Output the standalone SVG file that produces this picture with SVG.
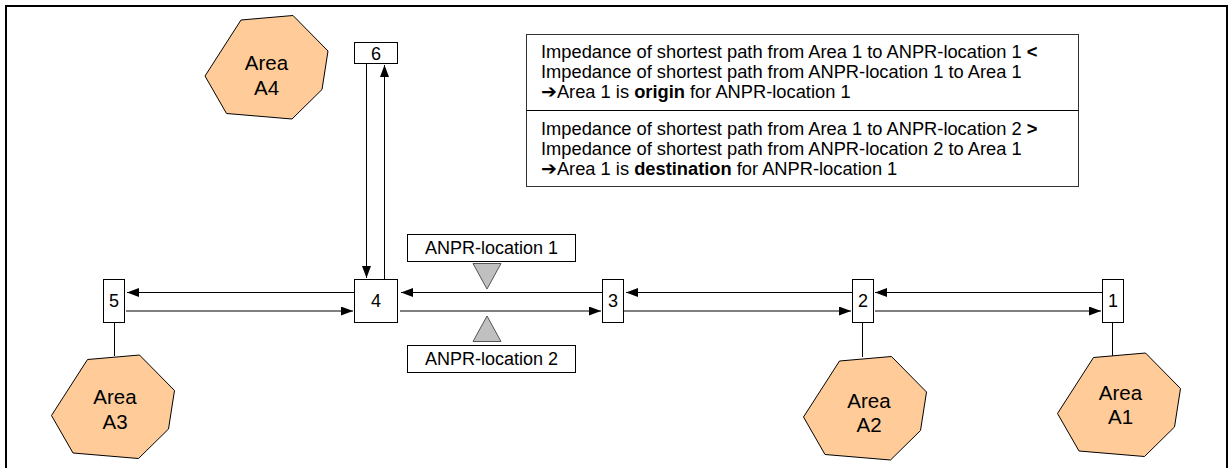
<svg xmlns="http://www.w3.org/2000/svg" width="1230" height="468" viewBox="0 0 1230 468">
<style>
text{font-family:"Liberation Sans",Arial,sans-serif;fill:#000}
.num{font-size:18px;text-anchor:middle}
.lbl{font-size:18px;text-anchor:middle}
.area{font-size:20.5px;text-anchor:middle}
.info{font-size:18.3px}
.box{fill:#fff;stroke:#000;stroke-width:1}
.hex{fill:#FFCC99;stroke:#000;stroke-width:1}
.ln{fill:none;stroke:#000;stroke-width:1}
.arr{fill:none;stroke:#000;stroke-width:1;marker-end:url(#ah)}
.tri{fill:#C0C0C0;stroke:#555;stroke-width:1}
.b{font-weight:bold}
.sym{font-family:"DejaVu Sans",sans-serif;font-size:19px}
</style>
<defs>
<marker id="ah" markerUnits="userSpaceOnUse" markerWidth="12" markerHeight="10" refX="12" refY="4.5" orient="auto">
<path d="M0,0 L12,4.5 L0,9 z" fill="#000"/>
</marker>
<polygon id="hexshape" points="0,0 52,-4.5 87,31 81,69.5 51,99 -14.5,93.5 -36,56"/>
</defs>

<path d="M6,470 V6 H1227 V470" fill="none" stroke="#000" stroke-width="2"/>

<g id="connectors">
<path class="arr" d="M1102,292.5 L875,292.5"/>
<path class="arr" d="M852,292.5 L626,292.5"/>
<path class="arr" d="M602,292.5 L401,292.5"/>
<path class="arr" d="M354,292.5 L127,292.5"/>
<path class="arr" d="M126,311 L353,311"/>
<path class="arr" d="M400,311 L601,311"/>
<path class="arr" d="M624,311 L851,311"/>
<path class="arr" d="M875,311 L1101,311"/>
<path class="arr" d="M366.5,64 L366.5,278"/>
<path class="arr" d="M384.5,279 L384.5,65"/>
<path class="ln" d="M114.5,322 L114.5,356"/>
<path class="ln" d="M862.5,322 L862.5,357"/>
<path class="ln" d="M1112.5,322 L1112.5,356"/>
</g>

<g id="node1"><rect class="box" x="1102.5" y="279.5" width="21" height="43"/><text class="num" x="1113" y="307">1</text></g>
<g id="node2"><rect class="box" x="852.5" y="279.5" width="21" height="43"/><text class="num" x="863" y="307">2</text></g>
<g id="node3"><rect class="box" x="602.5" y="279.5" width="21" height="43"/><text class="num" x="613" y="307">3</text></g>
<g id="node4"><rect class="box" x="354.5" y="279.5" width="43" height="43"/><text class="num" x="376" y="307">4</text></g>
<g id="node5"><rect class="box" x="103.5" y="279.5" width="21" height="43"/><text class="num" x="114" y="307">5</text></g>
<g id="node6"><rect class="box" x="354.5" y="42.5" width="43" height="21"/><text class="num" x="376" y="60">6</text></g>

<g id="anpr1">
<rect class="box" x="407.5" y="234.5" width="168" height="27"/>
<text class="lbl" x="491.5" y="254">ANPR-location 1</text>
<polygon class="tri" points="473,263.5 501,263.5 487,289"/>
</g>
<g id="anpr2">
<rect class="box" x="407.5" y="345.5" width="168" height="27"/>
<text class="lbl" x="491.5" y="365">ANPR-location 2</text>
<polygon class="tri" points="487,316 501,341.5 473,341.5"/>
</g>

<g id="areaA4">
<use href="#hexshape" class="hex" transform="translate(241,20)"/>
<text class="area" x="266.5" y="69.5">Area</text>
<text class="area" x="266.5" y="94.5">A4</text>
</g>
<g id="areaA3">
<use href="#hexshape" class="hex" transform="translate(87.5,359.5)"/>
<text class="area" x="115" y="404">Area</text>
<text class="area" x="115" y="428.5">A3</text>
</g>
<g id="areaA2">
<use href="#hexshape" class="hex" transform="translate(839.5,361)"/>
<text class="area" x="869" y="407.5">Area</text>
<text class="area" x="869" y="432">A2</text>
</g>
<g id="areaA1">
<use href="#hexshape" class="hex" transform="translate(1093.5,357.5)"/>
<text class="area" x="1120.5" y="399.5">Area</text>
<text class="area" x="1120.5" y="423.5">A1</text>
</g>

<g id="infobox">
<rect x="526.5" y="34.5" width="552" height="152" fill="#fff" stroke="#333" stroke-width="1"/>
<line x1="526.5" y1="110.5" x2="1078.5" y2="110.5" stroke="#000" stroke-width="1"/>
<text class="info" x="541" y="58">Impedance of shortest path from Area 1 to ANPR-location 1 <tspan class="b">&lt;</tspan></text>
<text class="info" x="541" y="78">Impedance of shortest path from ANPR-location 1 to Area 1</text>
<text class="info" x="541" y="98"><tspan class="sym">➔</tspan>Area 1 is <tspan class="b">origin</tspan> for ANPR-location 1</text>
<text class="info" x="541" y="135">Impedance of shortest path from Area 1 to ANPR-location 2 <tspan class="b">&gt;</tspan></text>
<text class="info" x="541" y="155">Impedance of shortest path from ANPR-location 2 to Area 1</text>
<text class="info" x="541" y="175"><tspan class="sym">➔</tspan>Area 1 is <tspan class="b">destination</tspan> for ANPR-location 1</text>
</g>
</svg>
